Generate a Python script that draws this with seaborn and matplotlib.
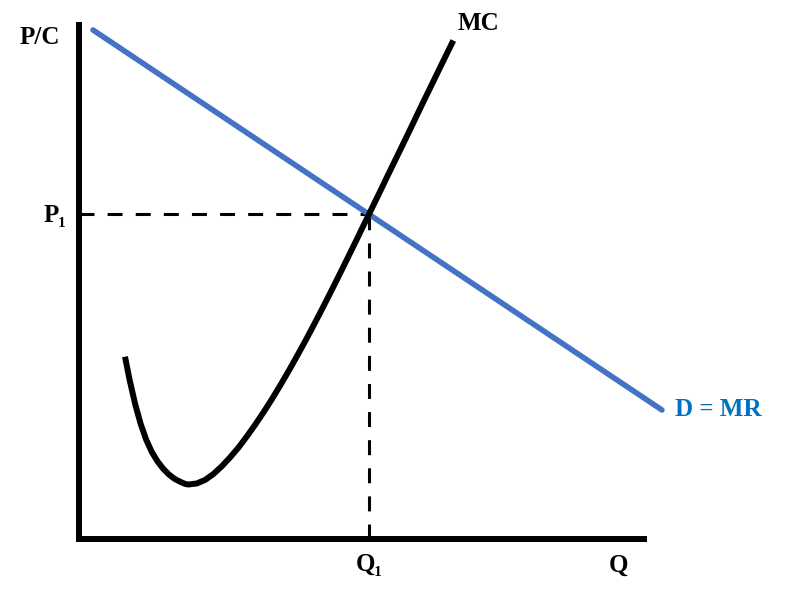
import numpy as np
import pandas as pd
import seaborn as sns
from matplotlib import pyplot as plt

sns.set_style('white')
plt.rcParams['font.family'] = ['Liberation Serif', 'DejaVu Serif']

# chart units: quantity on x, price/cost on y
q_max = 10.09
p_max = 10.34

demand_q = [0.25, 10.41]
demand_p = [10.18, 2.58]

mc_q = [0.821, 0.90, 1.00, 1.10, 1.20, 1.30, 1.40, 1.50, 1.60, 1.70,
        1.80, 1.90, 1.952, 2.10, 2.25, 2.40, 2.55, 2.70, 2.85, 3.00,
        3.15, 3.30, 3.45, 3.60, 3.75, 3.90, 4.05, 4.20, 4.35, 4.50,
        4.65, 4.80, 4.95, 5.18, 5.35, 5.50, 5.70, 5.90, 6.10, 6.30,
        6.50, 6.684]
mc_p = [3.646, 3.200, 2.710, 2.305, 1.985, 1.740, 1.555, 1.410, 1.295, 1.208,
        1.148, 1.100, 1.090, 1.110, 1.180, 1.300, 1.455, 1.635, 1.832, 2.056,
        2.293, 2.543, 2.807, 3.085, 3.373, 3.672, 3.979, 4.296, 4.62, 4.95,
        5.286, 5.627, 5.97, 6.50, 6.89, 7.24, 7.70, 8.16, 8.63, 9.09,
        9.55, 9.97]

p1 = 6.51
q1 = 5.18

fig = plt.figure(figsize=(7.85, 5.92), dpi=100)
ax = fig.add_axes([0, 0, 1, 1])

dem = pd.DataFrame({'Q': demand_q, 'P': demand_p})
mc = pd.DataFrame({'Q': mc_q, 'P': mc_p})

# dashed guides to P1 and Q1
ax.plot([0, q1], [p1, p1], color='black', lw=2.2, dashes=(4.9, 4.3))
ax.plot([q1, q1], [0, p1], color='black', lw=2.2, dashes=(4.9, 4.3))

sns.lineplot(x='Q', y='P', data=dem, color='#4472C4', lw=4.0, sort=False, ax=ax)
sns.lineplot(x='Q', y='P', data=mc, color='black', lw=4.3, sort=False, ax=ax,
             solid_capstyle='butt', solid_joinstyle='round')

# axes drawn as lines
ax.plot([0, 0], [0, p_max], color='black', lw=4.3, solid_capstyle='butt')
ax.plot([0, q_max], [0, 0], color='black', lw=4.3, solid_capstyle='projecting')

tkw = dict(fontsize=18, fontweight='bold', ha='center', va='center', color='black')
ax.text(-0.70, 10.02, 'P/C', **tkw)
ax.text(-0.43, p1 - 0.04, 'P\u2081', **tkw)
ax.text(q1, -0.52, 'Q\u2081', **tkw)
ax.text(9.63, -0.52, 'Q', **tkw)
ax.text(7.13, 10.32, 'MC', **tkw)
tkw['color'] = '#0070C0'
ax.text(11.41, 2.58, 'D = MR', **tkw)

ax.set_xlim(-1.411, 12.607)
ax.set_ylim(-1.06, 10.78)
ax.axis('off')

fig.savefig('out.png', dpi=100)
